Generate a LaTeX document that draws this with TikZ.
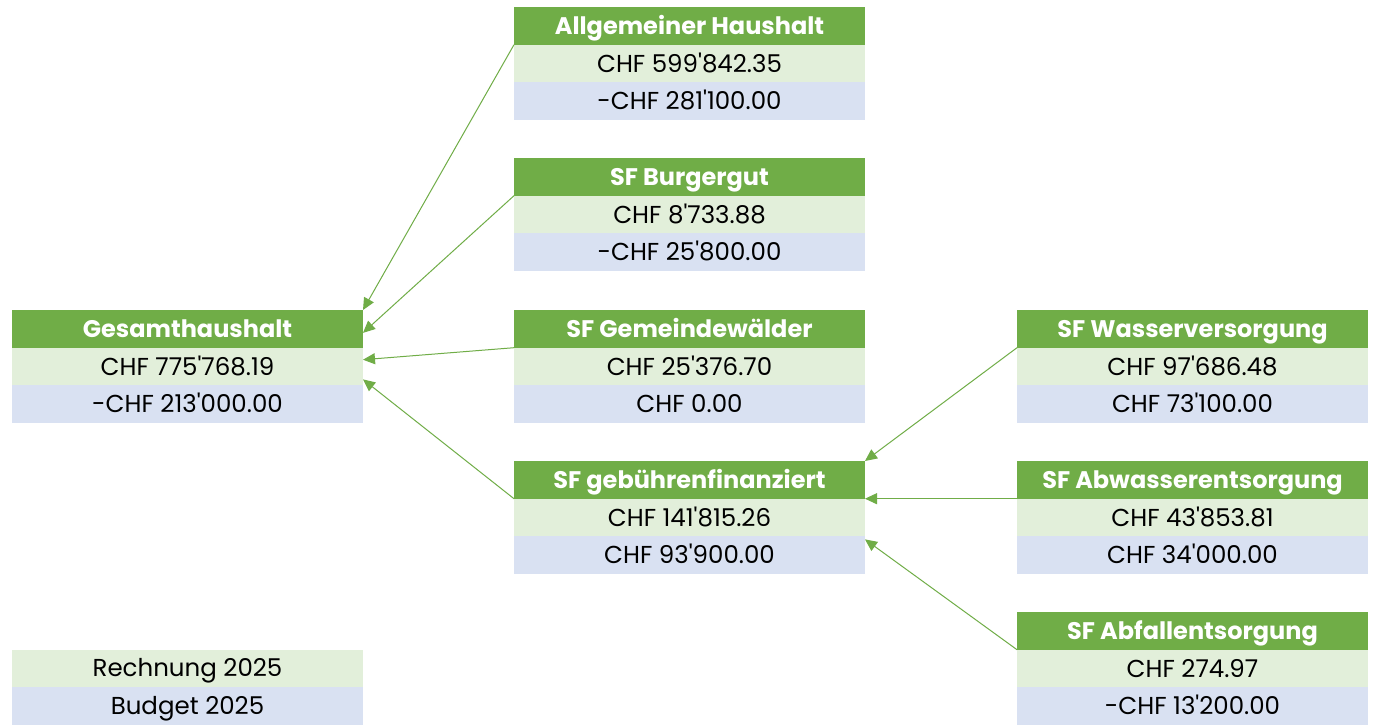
\documentclass[tikz,border=0pt]{standalone}
\usepackage{fontspec}
\setmainfont{Poppins}[Ligatures=TeXOff]
\usetikzlibrary{arrows.meta}
\definecolor{hgreen}{HTML}{70AD47}
\definecolor{lgreen}{HTML}{E2EFDA}
\definecolor{lblue}{HTML}{D9E1F2}
\tikzset{
  cell/.style={minimum width=351pt, minimum height=37.7pt, inner sep=0pt, outer sep=0pt, anchor=north west, text height=17pt, text depth=0pt, font=\fontsize{24.5}{28}\selectfont},
  hdr/.style={cell, fill=hgreen, text=white, font=\fontsize{24}{28}\selectfont\bfseries},
  rowa/.style={cell, fill=lgreen, text=black},
  rowb/.style={cell, fill=lblue, text=black},
  conn/.style={draw=hgreen, line width=1pt, -{Triangle[length=12pt,width=11pt]}}
}
\newcommand\budgetbox[6]{%
  \node[hdr] (#1-h) at (#2,#3) {#4};
  \node[rowa] (#1-r) at (#1-h.south west) {#5};
  \node[rowb] (#1-b) at (#1-r.south west) {#6};
}
\begin{document}
\begin{tikzpicture}[x=1pt,y=-1pt]
\fill[white] (0,0) rectangle (1375,725);
\useasboundingbox (0,0) rectangle (1375,725);
\budgetbox{ges}{12}{310}{Gesamthaushalt}{CHF 775'768.19}{-CHF 213'000.00}
\budgetbox{allg}{514}{7}{Allgemeiner Haushalt}{CHF 599'842.35}{-CHF 281'100.00}
\budgetbox{burg}{514}{158}{SF Burgergut}{CHF 8'733.88}{-CHF 25'800.00}
\budgetbox{gemw}{514}{310}{SF Gemeindewälder}{CHF 25'376.70}{CHF 0.00}
\budgetbox{gebf}{514}{461}{SF gebührenfinanziert}{CHF 141'815.26}{CHF 93'900.00}
\budgetbox{wass}{1017}{310}{SF Wasserversorgung}{CHF 97'686.48}{CHF 73'100.00}
\budgetbox{abw}{1017}{461}{SF Abwasserentsorgung}{CHF 43'853.81}{CHF 34'000.00}
\budgetbox{abf}{1017}{612}{SF Abfallentsorgung}{CHF 274.97}{-CHF 13'200.00}
\node[rowa] (leg-r) at (12,649.6) {Rechnung 2025};
\node[rowb] (leg-b) at (leg-r.south west) {Budget 2025};
\draw[conn] (allg-h.south west) -- (ges-h.north east);
\draw[conn] (burg-h.south west) -- ([yshift=-4pt]ges-h.east);
\draw[conn] (gemw-h.south west) -- ([yshift=-12pt]ges-r.north east);
\draw[conn] (gebf-h.south west) -- ([yshift=6pt]ges-r.south east);
\draw[conn] (wass-h.south west) -- (gebf-h.north east);
\draw[conn] (abw-h.south west) -- (gebf-h.south east);
\draw[conn] (abf-h.south west) -- ([yshift=-3pt]gebf-r.south east);
\end{tikzpicture}
\end{document}
